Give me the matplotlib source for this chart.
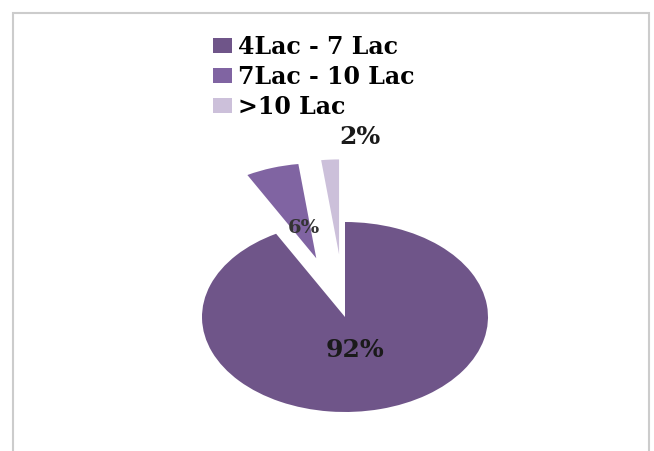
import matplotlib
matplotlib.use("Agg")
import matplotlib.pyplot as plt
from matplotlib.patches import Rectangle

# dati
categorie = ["4Lac - 7 Lac", "7Lac - 10 Lac", ">10 Lac"]
percentuali = [92, 6, 2]
colori = ["#6f5589", "#8064a2", "#ccc0da"]

# layout
esplodi = [0, 0.65, 0.66]
pos_etichette = [(0.07, -0.35), (-0.29, 0.94), (0.105, 1.895)]
size_etichette = [18, 14, 18]
col_etichette = ["#1a1a1a", "#333333", "#1a1a1a"]

W, H = 654, 451
fig = plt.figure(figsize=(W / 100, H / 100), dpi=100)

# cornice grigia
fig.patches.append(Rectangle((13 / W, -0.05), (649 - 13) / W, 1.05 - 12.5 / H,
                             transform=fig.transFigure, fill=False,
                             edgecolor="#cccccc", linewidth=1.5))

# centro torta (345, 317) px, raggi 143 x 95 px
cx, cy, rx, ry = 345, 317, 143, 95
x0, x1, y0, y1 = -1.1, 1.1, -1.1, 2.1
ax = fig.add_axes([(cx + x0 * rx) / W, (H - cy + y0 * ry) / H,
                   (x1 - x0) * rx / W, (y1 - y0) * ry / H])

wedges, texts, autotexts = ax.pie(
    percentuali, colors=colori, explode=esplodi, startangle=90,
    counterclock=False, autopct="%1.0f%%", pctdistance=0.4,
    wedgeprops=dict(linewidth=0))
ax.set_aspect("auto")
ax.set_xlim(x0, x1)
ax.set_ylim(y0, y1)
ax.axis("off")

for t, p, s, c in zip(autotexts, pos_etichette, size_etichette, col_etichette):
    t.set_position(p)
    t.set_fontsize(s)
    t.set_fontweight("bold")
    t.set_fontfamily("DejaVu Serif")
    t.set_color(c)

fig.legend(wedges, categorie, loc="upper left",
           bbox_to_anchor=(213 / W, 1 - 35 / H), frameon=False,
           borderpad=0, borderaxespad=0, handlelength=0.8, handleheight=0.6,
           handletextpad=0.25, labelspacing=0.26,
           prop=dict(family="DejaVu Serif", weight="bold", size=17))

fig.savefig("out.png", dpi=100)
